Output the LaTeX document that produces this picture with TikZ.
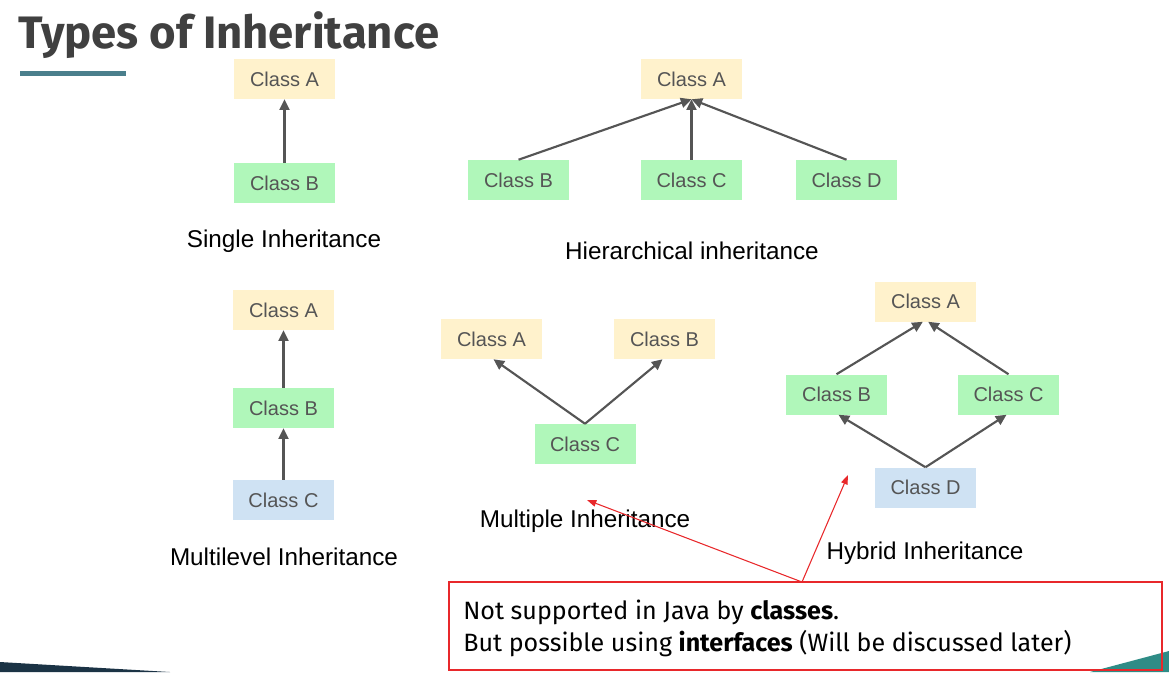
\documentclass[tikz,border=0pt]{standalone}
\usepackage{fontspec}
\setmainfont{Liberation Sans}
\newfontfamily\titlefont{Fira Sans}
\newfontfamily\notefont{Fira Sans}
\usetikzlibrary{arrows.meta}
\definecolor{cyel}{HTML}{FFF2CC}
\definecolor{cgrn}{HTML}{B0F7BA}
\definecolor{cblu}{HTML}{CFE2F3}
\definecolor{ctxt}{HTML}{555555}
\definecolor{carr}{HTML}{555555}
\definecolor{ctitle}{HTML}{404040}
\definecolor{cbar}{HTML}{4A7F8C}
\definecolor{cred}{HTML}{E8282B}
\definecolor{cnavy}{HTML}{1B3345}
\definecolor{cteal}{HTML}{2E8C86}
\tikzset{
  cls/.style={minimum width=75.75pt, minimum height=30pt, inner sep=0pt, text=ctxt, font=\fontsize{15}{17}\selectfont},
  ya/.style={cls, fill=cyel},
  gr/.style={cls, fill=cgrn},
  bl/.style={cls, fill=cblu},
  caplabel/.style={font=\fontsize{18.2}{21}\selectfont, text=black},
  notetext/.style={anchor=base west, inner sep=0pt, font=\notefont\fontsize{18.8}{24}\selectfont, text=black},
  inh/.style={draw=carr, line width=1.6pt, -{Triangle[length=8pt,width=7.5pt]}},
  redarr/.style={draw=cred, line width=0.8pt, -{Triangle[length=7pt,width=5pt]}},
}
\begin{document}
\begin{tikzpicture}[x=0.75pt,y=-0.75pt]
\useasboundingbox (0,0) rectangle (1169,672);
% title
\node[anchor=base west, inner sep=0pt, text=ctitle, font=\titlefont\bfseries\fontsize{34.1}{37}\selectfont] (title) at (18,48) {Types of Inheritance};
\fill[cbar] (20,71) rectangle (126,76);
% bottom decorations
\fill[cnavy] (0,662) -- (170,672) -- (0,672) -- cycle;
\fill[cteal] (1090,672) -- (1169,651) -- (1169,672) -- cycle;

% Single
\node[ya] (sA) at (284.5,79) {Class A};
\node[gr] (sB) at (284.5,183) {Class B};
\draw[inh] (sB) -- (sA);
\node[caplabel] (sL) at (284,241) {Single Inheritance};

% Hierarchical
\node[ya] (hA) at (691.5,79) {Class A};
\node[gr] (hB) at (518.5,180) {Class B};
\node[gr] (hC) at (691.5,180) {Class C};
\node[gr] (hD) at (846.5,180) {Class D};
\draw[inh] (hB.north) -- (hA.south);
\draw[inh] (hC.north) -- (hA.south);
\draw[inh] (hD.north) -- (hA.south);
\node[caplabel] (hL) at (692,251) {Hierarchical inheritance};

% Multilevel
\node[ya] (mA) at (283.5,310) {Class A};
\node[gr] (mB) at (283.5,408) {Class B};
\node[bl] (mC) at (283.5,500) {Class C};
\draw[inh] (mB) -- (mA);
\draw[inh] (mC) -- (mB);
\node[caplabel] (mL) at (284,557) {Multilevel Inheritance};

% Multiple
\node[ya] (uA) at (491.5,339) {Class A};
\node[ya] (uB) at (664.5,339) {Class B};
\node[gr] (uC) at (585,444) {Class C};
\draw[inh] (uC.north) -- ([xshift=1.5pt]uA.south);
\draw[inh] (uC.north) -- ([xshift=-1.5pt]uB.south);
\node[caplabel] (uL) at (585,521) {Multiple Inheritance};
\coordinate (uT) at (587,500);

% Hybrid
\node[ya] (yA) at (925.5,301.5) {Class A};
\node[gr] (yB) at (836.5,394.5) {Class B};
\node[gr] (yC) at (1008.5,394.5) {Class C};
\node[bl] (yD) at (925.5,487.5) {Class D};
\draw[inh] (yB.north) -- ([xshift=-2pt]yA.south);
\draw[inh] (yC.north) -- ([xshift=2pt]yA.south);
\draw[inh] (yD.north) -- ([xshift=1.5pt]yB.south);
\draw[inh] (yD.north) -- ([xshift=-1.5pt]yC.south);
\node[caplabel] (yL) at (925,553) {Hybrid Inheritance};
\coordinate (yT) at (848,475);

% callout
\node[draw=cred, line width=1pt, minimum width=534.75pt, minimum height=66pt, inner sep=0pt] (box) at (805.5,626) {};
\node[notetext] (n1) at (463,619) {Not supported in Java by \textbf{classes}.};
\node[notetext] (n2) at (463,651) {But possible using \textbf{interfaces} (Will be discussed later)};
\coordinate (bt) at (802,582);
\draw[redarr] (bt) -- (uT);
\draw[redarr] (bt) -- (yT);
\end{tikzpicture}
\end{document}
